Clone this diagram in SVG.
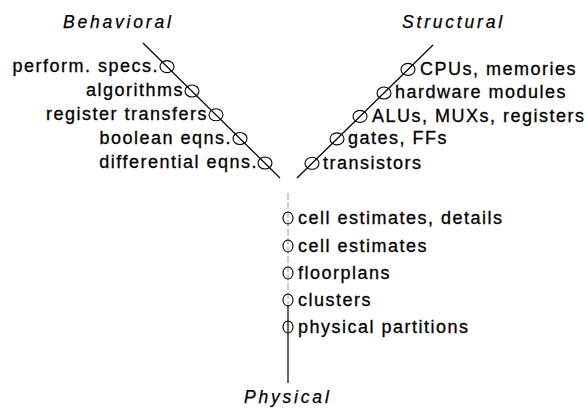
<svg xmlns="http://www.w3.org/2000/svg" width="587" height="412" viewBox="0 0 587 412">
  <style>
    .lbl { font-family: "Liberation Sans", Arial, sans-serif; font-size: 18px; letter-spacing: 1.5px; fill: #000; stroke: #000; stroke-width: 0.3px; }
    .end { text-anchor: end; }
    .title { font-family: "Liberation Sans", Arial, sans-serif; font-size: 17.5px; font-style: italic; letter-spacing: 2.8px; fill: #000; stroke: #000; stroke-width: 0.25px; }
    .axis { stroke: #000; stroke-width: 1.2; fill: none; }
    .faint { stroke: #9a9a9a; stroke-width: 1; fill: none; stroke-dasharray: 7 2; }
    .dot { stroke: #000; stroke-width: 1.1; fill: none; }
  </style>

  <!-- axis titles -->
  <g id="title-behavioral"><text class="title" x="63" y="28">Behavioral</text></g>
  <g id="title-structural"><text class="title" x="402" y="28">Structural</text></g>
  <g id="title-physical"><text class="title" x="244" y="403">Physical</text></g>

  <!-- the three axes of the Y-chart -->
  <g id="connectors">
    <line class="axis" x1="143" y1="43" x2="280" y2="178"/>
    <line class="axis" x1="433" y1="45" x2="297" y2="178"/>
    <line class="faint" x1="288" y1="193" x2="288" y2="305"/>
    <line class="axis" x1="288" y1="305" x2="288" y2="383"/>
  </g>

  <!-- behavioral levels -->
  <g id="b-perform">
    <ellipse class="dot" cx="167" cy="66.6" rx="7" ry="6"/>
    <text class="lbl end" x="159" y="72">perform. specs.</text>
  </g>
  <g id="b-algorithms">
    <ellipse class="dot" cx="192" cy="91" rx="7" ry="6"/>
    <text class="lbl end" x="184" y="96">algorithms</text>
  </g>
  <g id="b-register">
    <ellipse class="dot" cx="216" cy="114.8" rx="7" ry="6"/>
    <text class="lbl end" x="208" y="120">register transfers</text>
  </g>
  <g id="b-boolean">
    <ellipse class="dot" cx="240" cy="138.5" rx="7" ry="6"/>
    <text class="lbl end" x="232" y="144">boolean eqns.</text>
  </g>
  <g id="b-differential">
    <ellipse class="dot" cx="265" cy="163" rx="7" ry="6"/>
    <text class="lbl end" x="258" y="168">differential eqns.</text>
  </g>

  <!-- structural levels -->
  <g id="s-cpus">
    <ellipse class="dot" cx="408" cy="69.4" rx="7" ry="6"/>
    <text class="lbl" x="420" y="75">CPUs, memories</text>
  </g>
  <g id="s-hardware">
    <ellipse class="dot" cx="384" cy="93" rx="7" ry="6"/>
    <text class="lbl" x="395" y="98">hardware modules</text>
  </g>
  <g id="s-alus">
    <ellipse class="dot" cx="360" cy="116.4" rx="7" ry="6"/>
    <text class="lbl" x="372" y="122">ALUs, MUXs, registers</text>
  </g>
  <g id="s-gates">
    <ellipse class="dot" cx="337" cy="138.9" rx="7" ry="6"/>
    <text class="lbl" x="348" y="144">gates, FFs</text>
  </g>
  <g id="s-transistors">
    <ellipse class="dot" cx="312" cy="163.3" rx="7" ry="6"/>
    <text class="lbl" x="323" y="169">transistors</text>
  </g>

  <!-- physical levels -->
  <g id="p-details">
    <ellipse class="dot" cx="288" cy="218" rx="5" ry="6"/>
    <text class="lbl" x="298" y="224">cell estimates, details</text>
  </g>
  <g id="p-cells">
    <ellipse class="dot" cx="288" cy="246" rx="5" ry="6"/>
    <text class="lbl" x="298" y="252">cell estimates</text>
  </g>
  <g id="p-floorplans">
    <ellipse class="dot" cx="288" cy="273" rx="5" ry="6"/>
    <text class="lbl" x="298" y="279">floorplans</text>
  </g>
  <g id="p-clusters">
    <ellipse class="dot" cx="288" cy="300" rx="5" ry="6"/>
    <text class="lbl" x="298" y="306">clusters</text>
  </g>
  <g id="p-partitions">
    <ellipse class="dot" cx="288" cy="327" rx="5" ry="6"/>
    <text class="lbl" x="298" y="333">physical partitions</text>
  </g>
</svg>
